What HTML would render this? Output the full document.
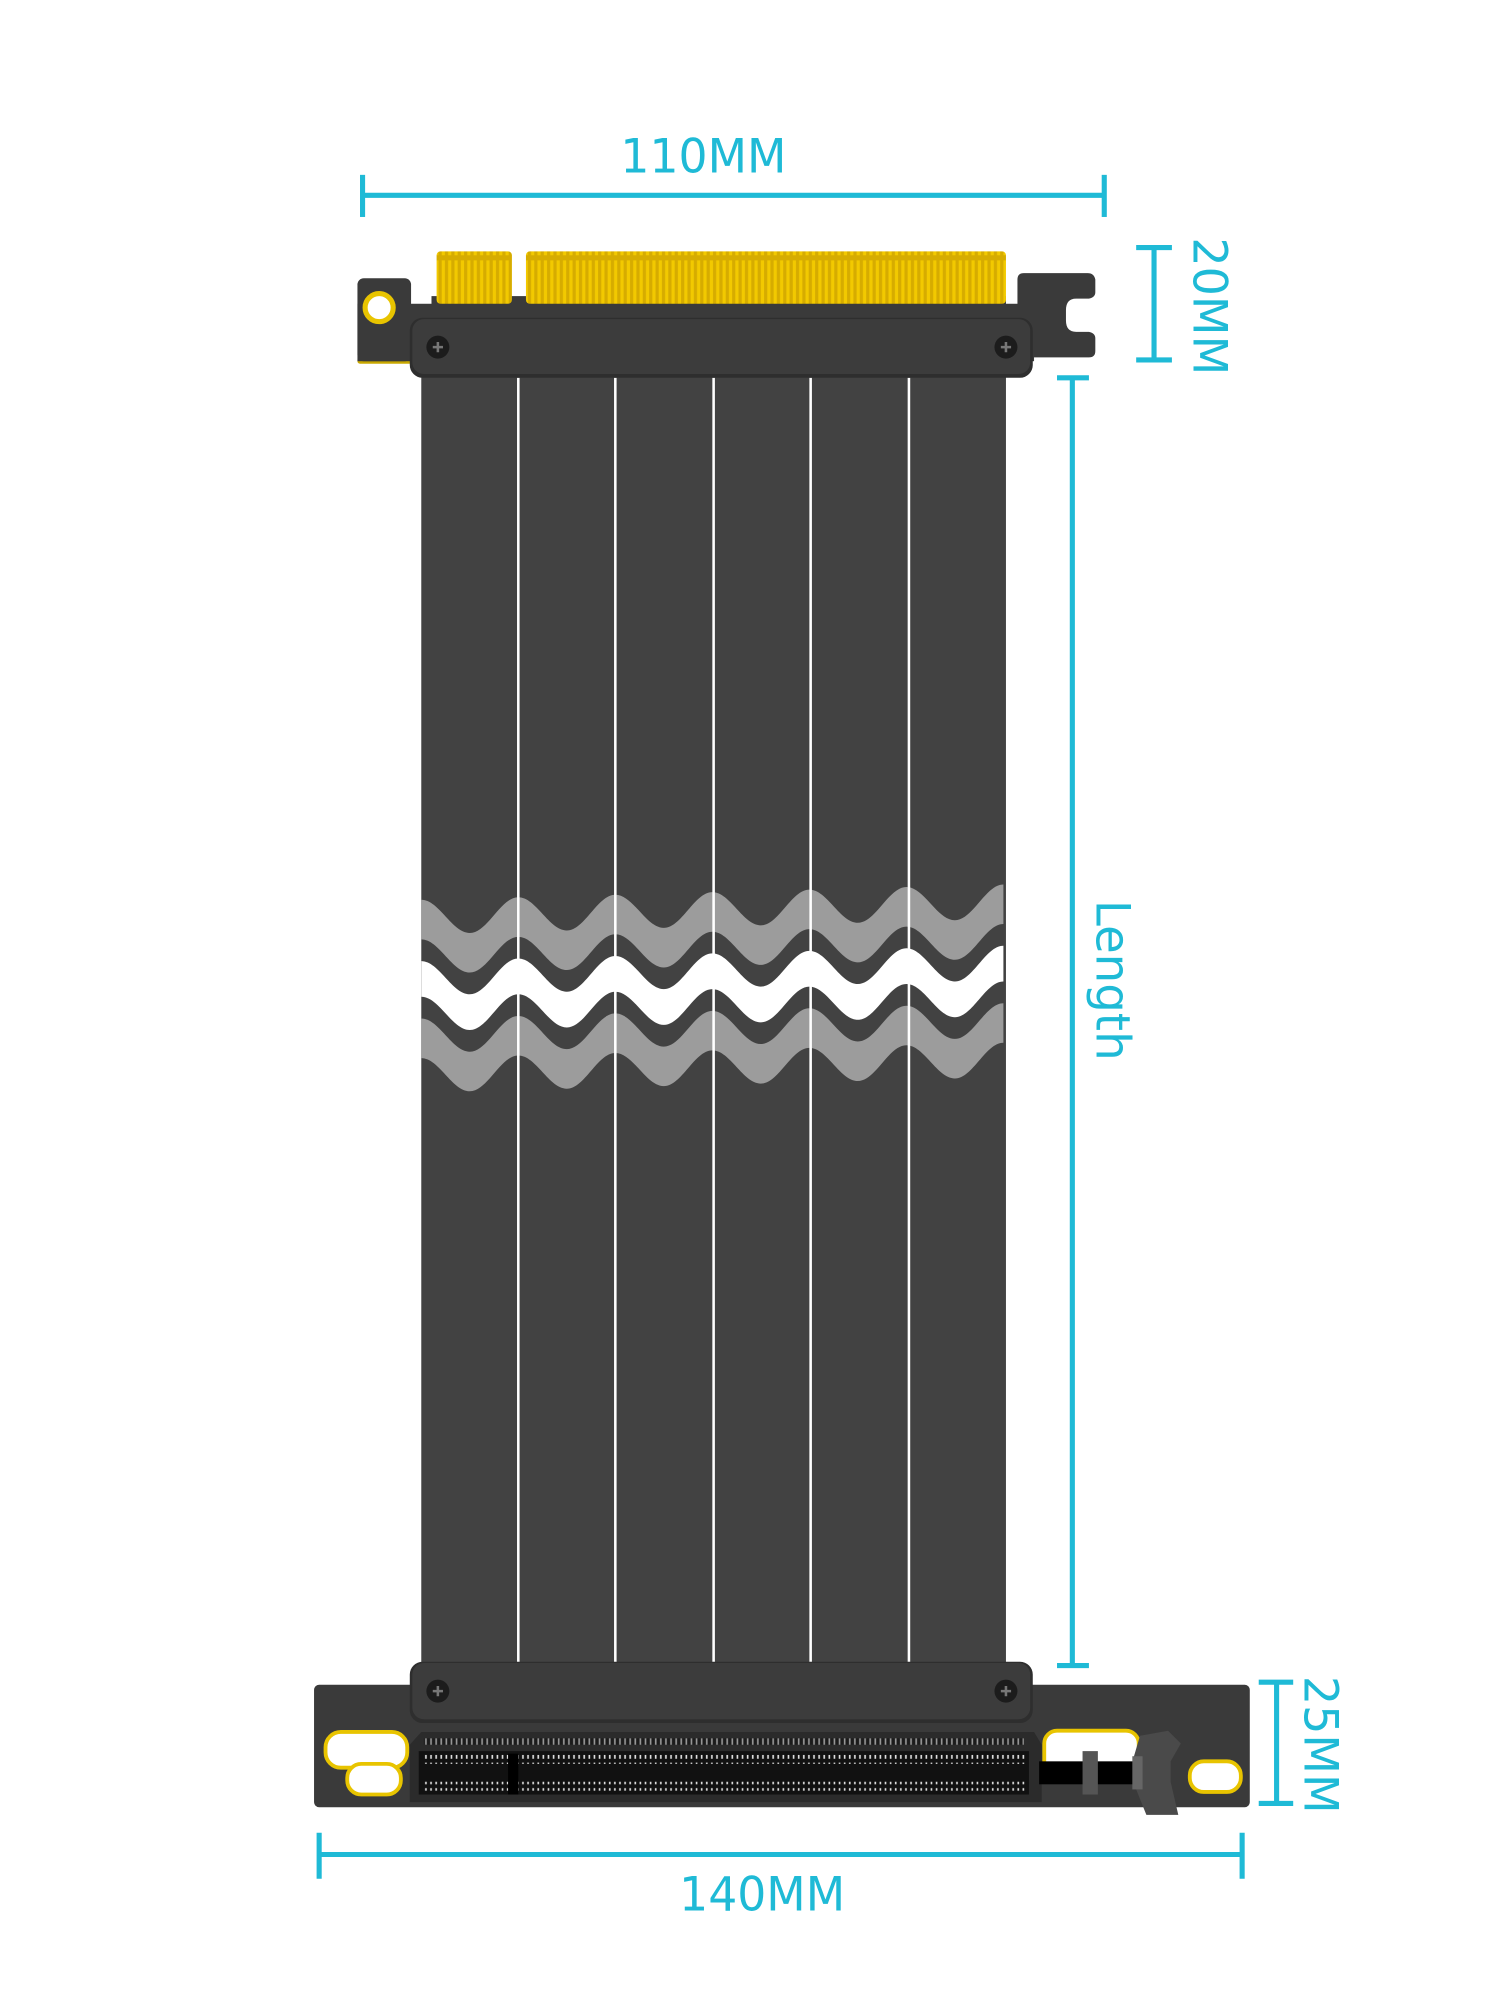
<!DOCTYPE html>
<html><head><meta charset="utf-8"><style>
html,body{margin:0;padding:0;background:#fff;}
svg{display:block;}
</style></head><body>
<svg width="1500" height="2000" viewBox="0 0 1175 1567" preserveAspectRatio="none" xmlns="http://www.w3.org/2000/svg">
<defs>
<clipPath id="cab"><rect x="330" y="296" width="458" height="1010"/></clipPath>
<pattern id="fing" x="0" y="0" width="5" height="40" patternUnits="userSpaceOnUse">
<rect width="5" height="40" fill="#d6ac00"/><rect x="1" y="4" width="2.5" height="36" fill="#f2c900"/>
</pattern>
<pattern id="slot" x="0" y="0" width="4" height="10" patternUnits="userSpaceOnUse">
<rect width="4" height="10" fill="#111"/><rect x="1" y="1" width="1.3" height="7" fill="#ddd"/>
</pattern>
</defs>

<g stroke="#1fbad6" stroke-width="4" fill="none">
<line x1="284" y1="153" x2="865" y2="153"/>
<line x1="284" y1="137" x2="284" y2="170"/>
<line x1="865" y1="137" x2="865" y2="170"/>
<line x1="904" y1="194" x2="904" y2="282"/>
<line x1="890" y1="194" x2="918" y2="194"/>
<line x1="890" y1="282" x2="918" y2="282"/>
<line x1="840" y1="296" x2="840" y2="1305"/>
<line x1="828" y1="296" x2="853" y2="296"/>
<line x1="828" y1="1305" x2="853" y2="1305"/>
<line x1="1000" y1="1318" x2="1000" y2="1413"/>
<line x1="986" y1="1318" x2="1013" y2="1318"/>
<line x1="986" y1="1413" x2="1013" y2="1413"/>
<line x1="250" y1="1453" x2="973" y2="1453"/>
<line x1="250" y1="1436" x2="250" y2="1472"/>
<line x1="973" y1="1436" x2="973" y2="1472"/>
</g>
<g fill="#1fbad6" font-family="'DejaVu Sans','Liberation Sans',sans-serif" font-size="37">
<text x="551" y="135" text-anchor="middle" textLength="130" lengthAdjust="spacingAndGlyphs">110MM</text>
<text x="597" y="1497" text-anchor="middle" textLength="130" lengthAdjust="spacingAndGlyphs">140MM</text>
<text transform="translate(935,240) rotate(90)" text-anchor="middle" textLength="108" lengthAdjust="spacingAndGlyphs">20MM</text>
<text transform="translate(859,768) rotate(90)" text-anchor="middle" textLength="126" lengthAdjust="spacingAndGlyphs">Length</text>
<text transform="translate(1022,1367) rotate(90)" text-anchor="middle" textLength="108" lengthAdjust="spacingAndGlyphs">25MM</text>
</g>

<!-- top bracket -->
<rect x="280" y="280" width="45" height="5" rx="2" fill="#c9a800"/>
<rect x="280" y="218" width="42" height="65" rx="5" fill="#3a3a3a"/>
<rect x="280" y="238" width="530" height="45" fill="#3a3a3a"/>
<rect x="338" y="232" width="450" height="8" fill="#3a3a3a"/>
<path d="M797,246 v-27 q0,-5 5,-5 h50 q5,0 6,5 v10 q0,4 -5,5 h-10 q-8,0 -8,9 v8 q0,9 8,9 h10 q5,1 5,5 v10 q0,5 -5,5 h-60 z" fill="#3a3a3a"/>
<rect x="342" y="197" width="59" height="41" rx="3" fill="url(#fing)"/>
<rect x="412" y="197" width="376" height="41" rx="3" fill="url(#fing)"/>
<circle cx="297" cy="241" r="11" fill="#fff" stroke="#e8c400" stroke-width="4"/>

<!-- cable -->
<rect x="330" y="290" width="458" height="1020" fill="#424242"/>
<g clip-path="url(#cab)">
<path fill="#9c9c9c" d="M330,705 c14,0 24,26 38,26 c14,0 24,-28 38,-28 c14,0 24,26 38,26 c14,0 24,-28 38,-28 c14,0 24,26 38,26 c14,0 24,-28 38,-28 c14,0 24,26 38,26 c14,0 24,-28 38,-28 c14,0 24,26 38,26 c14,0 24,-28 38,-28 c14,0 24,26 38,26 c14,0 24,-28 38,-28 v31 c-14,0 -24,28 -38,28 c-14,0 -24,-26 -38,-26 c-14,0 -24,28 -38,28 c-14,0 -24,-26 -38,-26 c-14,0 -24,28 -38,28 c-14,0 -24,-26 -38,-26 c-14,0 -24,28 -38,28 c-14,0 -24,-26 -38,-26 c-14,0 -24,28 -38,28 c-14,0 -24,-26 -38,-26 c-14,0 -24,28 -38,28 c-14,0 -24,-26 -38,-26 z"/>
<path fill="#ffffff" d="M330,753 c14,0 24,26 38,26 c14,0 24,-28 38,-28 c14,0 24,26 38,26 c14,0 24,-28 38,-28 c14,0 24,26 38,26 c14,0 24,-28 38,-28 c14,0 24,26 38,26 c14,0 24,-28 38,-28 c14,0 24,26 38,26 c14,0 24,-28 38,-28 c14,0 24,26 38,26 c14,0 24,-28 38,-28 v28 c-14,0 -24,28 -38,28 c-14,0 -24,-26 -38,-26 c-14,0 -24,28 -38,28 c-14,0 -24,-26 -38,-26 c-14,0 -24,28 -38,28 c-14,0 -24,-26 -38,-26 c-14,0 -24,28 -38,28 c-14,0 -24,-26 -38,-26 c-14,0 -24,28 -38,28 c-14,0 -24,-26 -38,-26 c-14,0 -24,28 -38,28 c-14,0 -24,-26 -38,-26 z"/>
<path fill="#9c9c9c" d="M330,798 c14,0 24,26 38,26 c14,0 24,-28 38,-28 c14,0 24,26 38,26 c14,0 24,-28 38,-28 c14,0 24,26 38,26 c14,0 24,-28 38,-28 c14,0 24,26 38,26 c14,0 24,-28 38,-28 c14,0 24,26 38,26 c14,0 24,-28 38,-28 c14,0 24,26 38,26 c14,0 24,-28 38,-28 v31 c-14,0 -24,28 -38,28 c-14,0 -24,-26 -38,-26 c-14,0 -24,28 -38,28 c-14,0 -24,-26 -38,-26 c-14,0 -24,28 -38,28 c-14,0 -24,-26 -38,-26 c-14,0 -24,28 -38,28 c-14,0 -24,-26 -38,-26 c-14,0 -24,28 -38,28 c-14,0 -24,-26 -38,-26 c-14,0 -24,28 -38,28 c-14,0 -24,-26 -38,-26 z"/>
</g>
<g fill="#ffffff">
<rect x="405" y="296" width="2" height="1010"/>
<rect x="481" y="296" width="2" height="1010"/>
<rect x="558" y="296" width="2" height="1010"/>
<rect x="634" y="296" width="2" height="1010"/>
<rect x="711" y="296" width="2" height="1010"/>
</g>

<rect x="321" y="249" width="488" height="47" rx="10" fill="#2e2e2e"/>
<rect x="323" y="250" width="484" height="43" rx="9" fill="#3c3c3c"/>
<circle cx="343" cy="272" r="9" fill="#1c1c1c"/>
<circle cx="788" cy="272" r="9" fill="#1c1c1c"/>
<path d="M339,272h8M343,268v8M784,272h8M788,268v8" stroke="#777" stroke-width="2"/>

<rect x="246" y="1320" width="733" height="96" rx="4" fill="#3a3a3a"/>
<rect x="321" y="1302" width="488" height="48" rx="10" fill="#2e2e2e"/>
<rect x="323" y="1303" width="484" height="44" rx="9" fill="#3c3c3c"/>
<circle cx="343" cy="1325" r="9" fill="#1c1c1c"/>
<circle cx="788" cy="1325" r="9" fill="#1c1c1c"/>
<path d="M339,1325h8M343,1321v8M784,1325h8M788,1321v8" stroke="#777" stroke-width="2"/>

<path d="M330,1357 h480 l6,10 v45 h-495 v-45 z" fill="#2b2b2b"/>
<rect x="332" y="1362" width="470" height="5" fill="url(#slot)" opacity="0.6"/>
<rect x="328" y="1372" width="478" height="34" fill="#111"/>
<rect x="332" y="1375" width="472" height="7" fill="url(#slot)"/>
<rect x="332" y="1396" width="472" height="7" fill="url(#slot)"/>
<rect x="398" y="1374" width="8" height="32" fill="#000"/>

<rect x="255" y="1357" width="64" height="28" rx="12" fill="#fff" stroke="#e8c400" stroke-width="3"/>
<rect x="272" y="1382" width="42" height="24" rx="11" fill="#fff" stroke="#e8c400" stroke-width="3"/>
<rect x="932" y="1380" width="40" height="24" rx="11" fill="#fff" stroke="#e8c400" stroke-width="3"/>
<rect x="818" y="1356" width="74" height="40" rx="10" fill="#fff" stroke="#e8c400" stroke-width="3"/>

<rect x="814" y="1380" width="80" height="18" fill="#000"/>
<path d="M893,1360 l22,-4 l10,10 l-8,14 v16 l6,26 l-25,0 l-10,-25 v-20 z" fill="#4a4a4a"/>
<rect x="848" y="1372" width="12" height="34" fill="#555"/>
<rect x="887" y="1376" width="8" height="26" fill="#666"/>
</svg>
</body></html>
